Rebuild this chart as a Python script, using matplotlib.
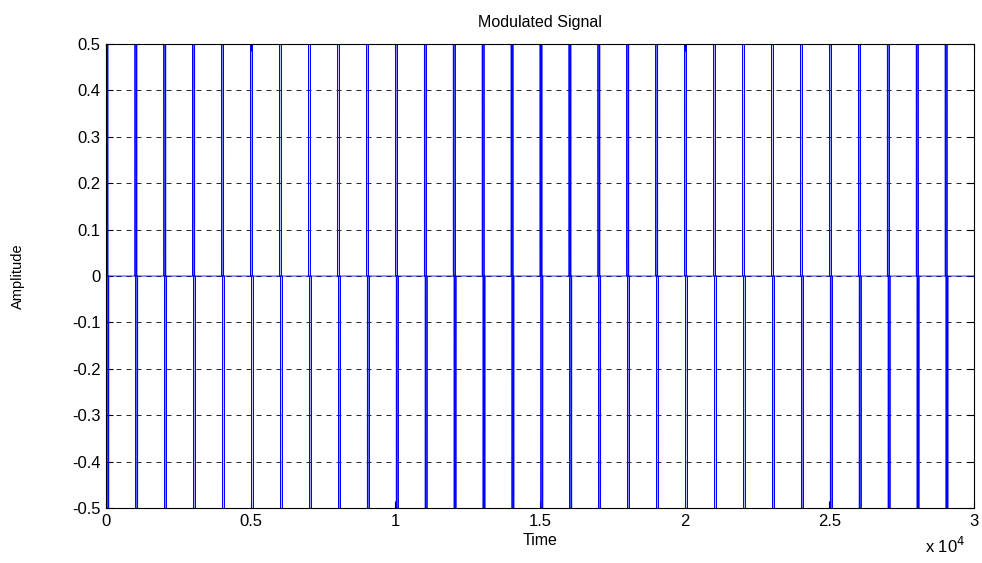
import numpy as np
import matplotlib.pyplot as plt

plt.rcParams['font.family'] = ['Liberation Sans', 'DejaVu Sans']

# Pulse bursts every 1000 samples, zero in between
n_samples = 30000
burst_starts = [0, 1000, 2000, 3000, 4000, 5000, 6000, 7000, 8000, 9000,
                10000, 11000, 12000, 13000, 14000, 15000, 16000, 17000, 18000, 19000,
                20000, 21000, 22000, 23000, 24000, 25000, 26000, 27000, 28000, 29000]
burst_values = [0.5, -0.5, 0.5, -0.5]
burst_step = 30

t = np.arange(n_samples)
signal = np.zeros(n_samples)
for s in burst_starts:
    for k, v in enumerate(burst_values):
        idx = s + 1 + k * burst_step
        if idx < n_samples:
            signal[idx] = v

fig = plt.figure(figsize=(9.82, 5.63), dpi=100)
ax = fig.add_axes([0.108, 0.0977, 0.884, 0.824])
ax.plot(t, signal, color='#0000ff', linewidth=0.6)

ax.set_xlim(0, 30000)
ax.set_ylim(-0.5, 0.5)
ax.set_xticks(np.arange(0, 30001, 5000))
ax.set_xticklabels(['0', '0.5', '1', '1.5', '2', '2.5', '3'])
ax.set_yticks(np.round(np.arange(-0.5, 0.51, 0.1), 1))
ax.set_yticklabels(['-0.5', '-0.4', '-0.3', '-0.2', '-0.1', '0',
                    '0.1', '0.2', '0.3', '0.4', '0.5'])
ax.tick_params(direction='in', top=True, right=True, labelsize=12, length=5, pad=4)
ax.grid(True, axis='y', linestyle=(0, (6, 6)), color='black', linewidth=0.6)
for sp in ax.spines.values():
    sp.set_linewidth(0.8)

ax.set_title('Modulated Signal', fontsize=11.5, pad=12)
ax.set_xlabel('Time', fontsize=11.5, labelpad=3)
ax.set_ylabel('Amplitude', fontsize=10.5, labelpad=34)
fig.text(0.962, 0.012, r'x 10$^4$', fontsize=12, ha='center', va='bottom')

fig.savefig('out.png', dpi=100)
